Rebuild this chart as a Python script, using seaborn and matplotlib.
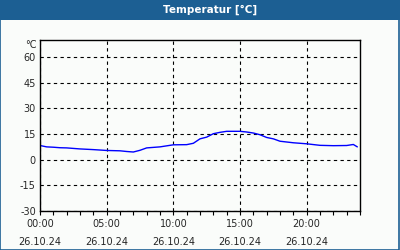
import matplotlib
matplotlib.use("Agg")
import matplotlib.pyplot as plt
import matplotlib.patches as mpatches
import seaborn as sns
import pandas as pd

# Messwerte (Stunden seit 00:00 am 26.10.24)
stunden = [0, 0.5, 1, 1.5, 2, 3, 4, 5, 6, 6.5, 7, 7.5, 8, 9, 10, 11, 11.5, 12, 12.5, 13,
           13.5, 14, 15, 15.5, 16, 16.5, 17, 17.5, 18, 19, 20, 21, 22, 23, 23.5, 23.8]
temperatur = [8.3, 7.5, 7.3, 7.0, 6.9, 6.3, 5.9, 5.4, 5.2, 4.8, 4.5, 5.5, 6.9, 7.5, 8.7, 8.8, 9.6, 12.2, 13.2, 15.2,
              16.0, 16.6, 16.6, 16.2, 15.6, 14.6, 13.0, 12.2, 10.8, 9.9, 9.3, 8.4, 8.2, 8.3, 8.9, 7.5]

x_ticks = [0, 5, 10, 15, 20]
x_labels = ["00:00\n26.10.24", "05:00\n26.10.24", "10:00\n26.10.24", "15:00\n26.10.24", "20:00\n26.10.24"]
y_ticks = [-30, -15, 0, 15, 30, 45, 60]

df = pd.DataFrame({"Stunde": stunden, "Temperatur": temperatur})

sns.set_theme(style="white")
plt.rcParams['font.family'] = ['DejaVu Sans']

blau = "#1c5f93"
fig = plt.figure(figsize=(4, 2.5), dpi=100, facecolor="#fafcfa")

# Kopfzeile
fig.patches.append(mpatches.Rectangle((0, 0.92), 1, 0.08, transform=fig.transFigure,
                                      facecolor=blau, edgecolor="none", zorder=0))
fig.patches.append(mpatches.Rectangle((0.001, 0.002), 0.997, 0.996, transform=fig.transFigure,
                                      facecolor="none", edgecolor=blau, lw=1.2, zorder=5))
fig.text(0.525, 0.96, "Temperatur [°C]", color="white", fontsize=7.5, fontweight="bold",
         ha="center", va="center")

ax = fig.add_axes([0.1, 0.156, 0.8, 0.684])
ax.set_facecolor("#fafcfa")
sns.lineplot(data=df, x="Stunde", y="Temperatur", color="#0000ff", lw=1, ax=ax)

ax.set_xlim(0, 24)
ax.set_ylim(-30, 70)
ax.set_xticks(x_ticks)
ax.set_xticklabels(x_labels, fontsize=7, linespacing=1.9)
ax.set_xticks(range(0, 25), minor=True)
ax.set_yticks(y_ticks)
ax.set_yticklabels([str(v) for v in y_ticks], fontsize=7)
ax.tick_params(axis="x", which="both", direction="out", length=3, width=0.8, color="black", bottom=True, pad=3)
ax.tick_params(axis="y", length=0, pad=3)
ax.set_xlabel("")
ax.set_ylabel("")

ax.grid(True, color="black", ls=(0, (3, 3)), lw=0.8)
for s in ax.spines.values():
    s.set_color("black")
    s.set_linewidth(1)

ax.text(-0.01, 0.972, "°C", transform=ax.transAxes, fontsize=7, ha="right", va="center")

plt.savefig("out.png", dpi=100, facecolor=fig.get_facecolor())
